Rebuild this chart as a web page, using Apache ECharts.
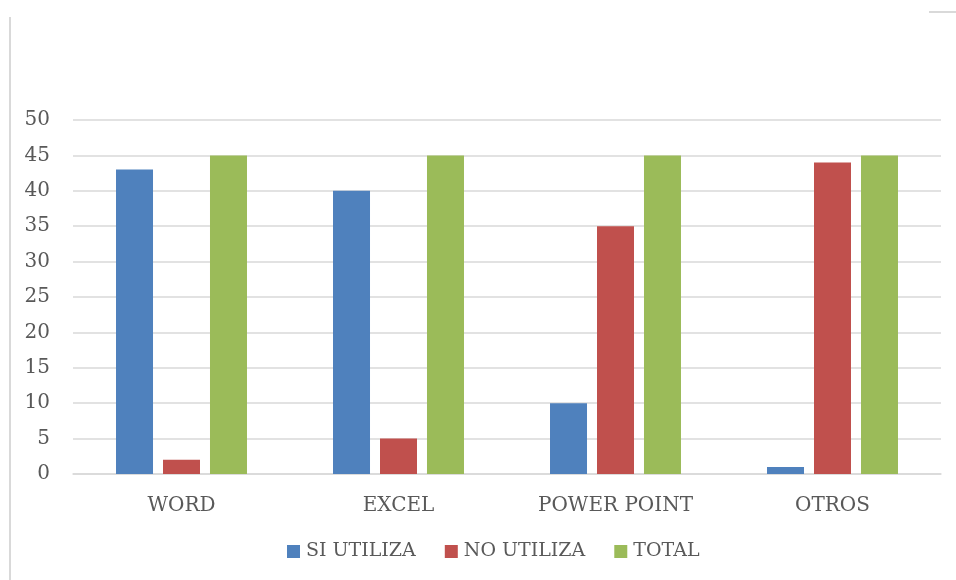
<!DOCTYPE html>
<html><head><meta charset="utf-8">
<script src="https://cdn.jsdelivr.net/npm/echarts@6/dist/echarts.min.js"></script>
<style>html,body{margin:0;padding:0;background:#fff}#c{width:956px;height:580px}</style>
</head><body><div id="c"></div>
<script>
const categories = ['WORD', 'EXCEL', 'POWER POINT', 'OTROS'];
const siUtiliza = [43, 40, 10, 1];
const noUtiliza = [2, 5, 35, 44];
const total = [45, 45, 45, 45];
const seriesNames = ['SI UTILIZA', 'NO UTILIZA', 'TOTAL'];
const colors = ['#4F81BD', '#C0504D', '#9BBB59'];
const font = 'DejaVu Serif';
const chart = echarts.init(document.getElementById('c'));
chart.setOption({
  animation: false,
  color: colors,
  textStyle: { fontFamily: font, color: '#595959' },
  grid: { left: 73, right: 15, top: 120, bottom: 106, containLabel: false },
  legend: {
    bottom: 14, left: 282, itemWidth: 13, itemHeight: 13, itemGap: 29,
    icon: 'rect',
    textStyle: { fontFamily: font, fontSize: 19, color: '#595959', padding: [0, 0, 0, 1] },
    data: seriesNames
  },
  xAxis: {
    type: 'category', data: categories,
    axisLine: { lineStyle: { color: '#d9d9d9', width: 1.5 } },
    axisTick: { show: false },
    axisLabel: { fontFamily: font, fontSize: 20, color: '#595959', margin: 22 }
  },
  yAxis: {
    type: 'value', min: 0, max: 50, interval: 5,
    axisLine: { show: false }, axisTick: { show: false },
    splitLine: { lineStyle: { color: '#d9d9d9', width: 1.5 } },
    axisLabel: { fontFamily: font, fontSize: 20, color: '#595959', margin: 23 }
  },
  graphic: [
    { type: 'line', shape: { x1: 10, y1: 17, x2: 10, y2: 580 }, style: { stroke: '#d9d9d9', lineWidth: 2 } },
    { type: 'line', shape: { x1: 929, y1: 12, x2: 956, y2: 12 }, style: { stroke: '#d9d9d9', lineWidth: 2 } }
  ],
  series: [
    { name: seriesNames[0], type: 'bar', data: siUtiliza, barWidth: 37, barGap: '27%' },
    { name: seriesNames[1], type: 'bar', data: noUtiliza, barWidth: 37, barGap: '27%' },
    { name: seriesNames[2], type: 'bar', data: total, barWidth: 37, barGap: '27%' }
  ]
});
</script></body></html>
